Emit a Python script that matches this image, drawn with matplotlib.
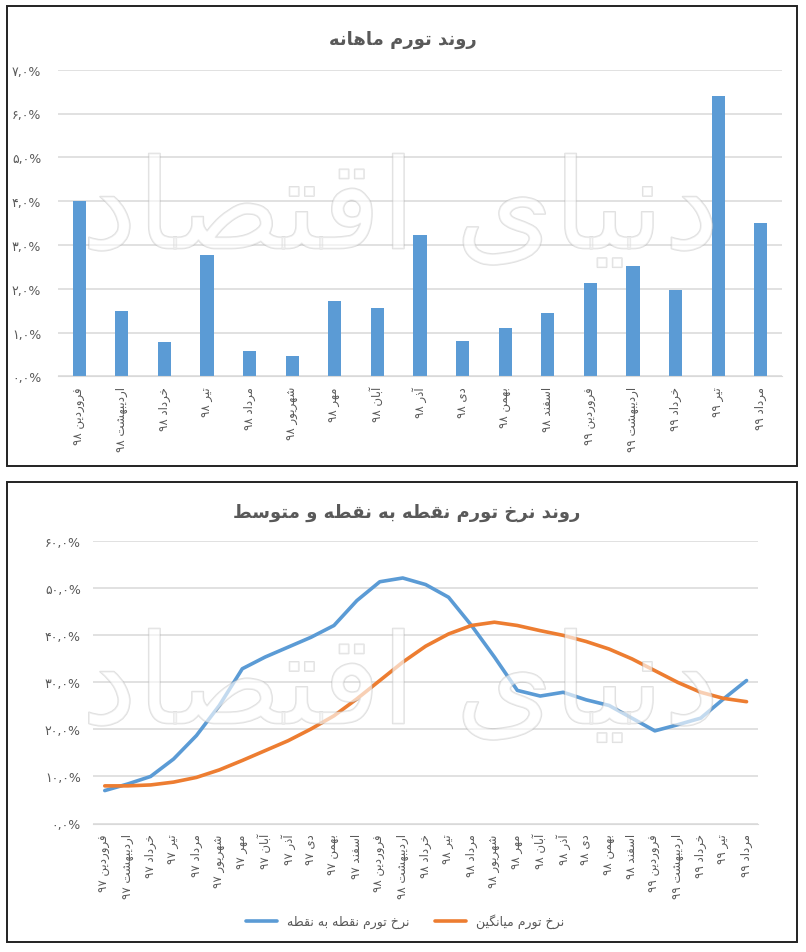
import matplotlib
matplotlib.use("Agg")
import matplotlib.pyplot as plt
import matplotlib.patheffects as pe
from matplotlib.patches import Rectangle

# --- data -------------------------------------------------------------
month_names = ['فروردین', 'اردیبهشت', 'خرداد', 'تیر', 'مرداد', 'شهریور',
               'مهر', 'آبان', 'آذر', 'دی', 'بهمن', 'اسفند']

bar_labels = ([m + ' ۹۸' for m in month_names]
              + [m + ' ۹۹' for m in month_names[:5]])
monthly_inflation = [4.00, 1.50, 0.79, 2.76, 0.57, 0.47, 1.73, 1.55, 3.22,
                     0.81, 1.11, 1.45, 2.13, 2.52, 1.98, 6.40, 3.50]

line_labels = ([m + ' ۹۷' for m in month_names]
               + [m + ' ۹۸' for m in month_names]
               + [m + ' ۹۹' for m in month_names[:5]])
point_inflation = [7.0, 8.4, 10.0, 13.7, 18.7, 25.1, 32.9, 35.4, 37.5, 39.6,
                   42.1, 47.4, 51.4, 52.2, 50.8, 48.1, 42.1, 35.4, 28.3, 27.1,
                   27.9, 26.3, 25.1, 22.4, 19.7, 21.0, 22.4, 26.5, 30.4]
avg_inflation = [8.0, 8.0, 8.2, 8.8, 9.8, 11.4, 13.4, 15.5, 17.6, 20.1,
                 22.9, 26.5, 30.4, 34.3, 37.7, 40.3, 42.1, 42.8, 42.1, 41.0,
                 40.0, 38.7, 37.1, 35.0, 32.5, 30.0, 27.9, 26.6, 25.9]

title_top = 'روند تورم ماهانه'
title_bottom = 'روند نرخ تورم نقطه به نقطه و متوسط'
legend_labels = ['نرخ تورم نقطه به نقطه', 'نرخ تورم میانگین']
watermark = 'دنیای اقتصاد'

# --- simple arabic/persian shaping (no raqm in matplotlib) -----------
FORMS = {
    'ا': ('\uFE8D', '\uFE8E', None, None),
    'آ': ('\uFE81', '\uFE82', None, None),
    'ب': ('\uFE8F', '\uFE90', '\uFE91', '\uFE92'),
    'ت': ('\uFE95', '\uFE96', '\uFE97', '\uFE98'),
    'خ': ('\uFEA5', '\uFEA6', '\uFEA7', '\uFEA8'),
    'د': ('\uFEA9', '\uFEAA', None, None),
    'ذ': ('\uFEAB', '\uFEAC', None, None),
    'ر': ('\uFEAD', '\uFEAE', None, None),
    'ز': ('\uFEAF', '\uFEB0', None, None),
    'س': ('\uFEB1', '\uFEB2', '\uFEB3', '\uFEB4'),
    'ش': ('\uFEB5', '\uFEB6', '\uFEB7', '\uFEB8'),
    'ص': ('\uFEB9', '\uFEBA', '\uFEBB', '\uFEBC'),
    'ط': ('\uFEC1', '\uFEC2', '\uFEC3', '\uFEC4'),
    'ف': ('\uFED1', '\uFED2', '\uFED3', '\uFED4'),
    'ق': ('\uFED5', '\uFED6', '\uFED7', '\uFED8'),
    'م': ('\uFEE1', '\uFEE2', '\uFEE3', '\uFEE4'),
    'ن': ('\uFEE5', '\uFEE6', '\uFEE7', '\uFEE8'),
    'ه': ('\uFEE9', '\uFEEA', '\uFEEB', '\uFEEC'),
    'و': ('\uFEED', '\uFEEE', None, None),
    'ی': ('\uFBFC', '\uFBFD', '\uFBFE', '\uFBFF'),
    'گ': ('\uFB92', '\uFB93', '\uFB94', '\uFB95'),
}


def shape(word):
    out = []
    for i, ch in enumerate(word):
        f = FORMS.get(ch)
        if f is None:
            out.append(ch)
            continue
        prev = word[i - 1] if i > 0 else None
        nxt = word[i + 1] if i < len(word) - 1 else None
        jp = prev in FORMS and FORMS[prev][2] is not None
        jn = f[2] is not None and nxt in FORMS
        if jp and jn:
            out.append(f[3])
        elif jp:
            out.append(f[1])
        elif jn:
            out.append(f[2])
        else:
            out.append(f[0])
    return ''.join(out)


def fa(text):
    vis = []
    for p in reversed(text.split(' ')):
        if any(c in FORMS for c in p):
            vis.append(shape(p)[::-1])
        else:
            vis.append(p)
    return ' '.join(vis)


def fa_num(v):
    s = f'{v:.1f}%'
    return s.translate(str.maketrans('0123456789.', '۰۱۲۳۴۵۶۷۸۹,'))


# --- styling ------------------------------------------------------------
plt.rcParams['font.family'] = ['DejaVu Sans']
blue = '#5B9BD5'
orange = '#ED7D31'
grid_c = '#D9D9D9'
text_c = '#595959'

W, H = 806, 953
fig = plt.figure(figsize=(W / 100, H / 100), dpi=100)


def px_axes(left, top, right, bottom):
    return fig.add_axes([left / W, 1 - bottom / H,
                         (right - left) / W, (bottom - top) / H])


def clean(ax):
    for s in ['top', 'right', 'left']:
        ax.spines[s].set_visible(False)
    ax.spines['bottom'].set_color(grid_c)
    ax.tick_params(length=0)
    ax.yaxis.grid(True, color=grid_c, lw=1.1)
    ax.set_axisbelow(True)


# panel frames
for top, bot in [(7, 467), (483, 943)]:
    fig.add_artist(Rectangle((7 / W, 1 - bot / H), 790 / W, (bot - top) / H,
                             transform=fig.transFigure, fill=False,
                             ec='#222222', lw=1.4))

# --- top: monthly bars ------------------------------------------------------
ax1 = px_axes(58, 70.7, 782, 377.3)
clean(ax1)
x1 = range(len(monthly_inflation))
ax1.bar(x1, monthly_inflation, width=0.31, color=blue, zorder=2)
ax1.set_xlim(-0.5, len(monthly_inflation) - 0.5)
ax1.set_ylim(0, 7)
ax1.set_yticks(range(0, 8))
ax1.set_yticklabels([fa_num(v) for v in range(0, 8)], color=text_c, fontsize=9)
ax1.tick_params(axis='y', pad=12)
ax1.set_xticks(list(x1))
ax1.set_xticklabels([fa(s) for s in bar_labels], rotation=90, fontsize=8.5,
                    color=text_c, ha='right', va='center',
                    rotation_mode='anchor')
ax1.tick_params(axis='x', pad=7)
fig.text(403 / W, 1 - 40 / H, fa(title_top), ha='center', va='center',
         fontsize=13, fontweight='bold', color=text_c)

# --- bottom: point-to-point vs average ----------------------------------------
ax2 = px_axes(93.3, 542.3, 758, 824.5)
clean(ax2)
x2 = range(len(point_inflation))
ax2.plot(x2, point_inflation, color=blue, lw=2.6, label=fa(legend_labels[0]),
         solid_capstyle='round', zorder=3)
ax2.plot(x2, avg_inflation, color=orange, lw=2.6, label=fa(legend_labels[1]),
         solid_capstyle='round', zorder=3)
ax2.set_xlim(-0.5, len(point_inflation) - 0.5)
ax2.set_ylim(0, 60)
ax2.set_yticks(range(0, 61, 10))
ax2.set_yticklabels([fa_num(v) for v in range(0, 61, 10)], color=text_c,
                    fontsize=9)
ax2.tick_params(axis='y', pad=9)
ax2.set_xticks(list(x2))
ax2.set_xticklabels([fa(s) for s in line_labels], rotation=90, fontsize=8.5,
                    color=text_c, ha='right', va='center',
                    rotation_mode='anchor')
ax2.tick_params(axis='x', pad=7)
fig.text(407 / W, 1 - 513 / H, fa(title_bottom), ha='center', va='center',
         fontsize=13, fontweight='bold', color=text_c)
fig.legend(*ax2.get_legend_handles_labels(), loc='center',
           bbox_to_anchor=(405 / W, 1 - 922 / H), ncol=2, frameon=False,
           fontsize=9, handlelength=2.5, columnspacing=2.0,
           labelcolor=text_c)

# faint watermark
for cy in [215, 690]:
    fig.text(400 / W, 1 - cy / H, fa(watermark), ha='center', va='center',
             fontsize=90, color='white', alpha=0.4, zorder=10,
             path_effects=[pe.withStroke(linewidth=1.2, foreground='#b0b0b0',
                                         alpha=0.4)])

fig.savefig('out.png', dpi=100)
